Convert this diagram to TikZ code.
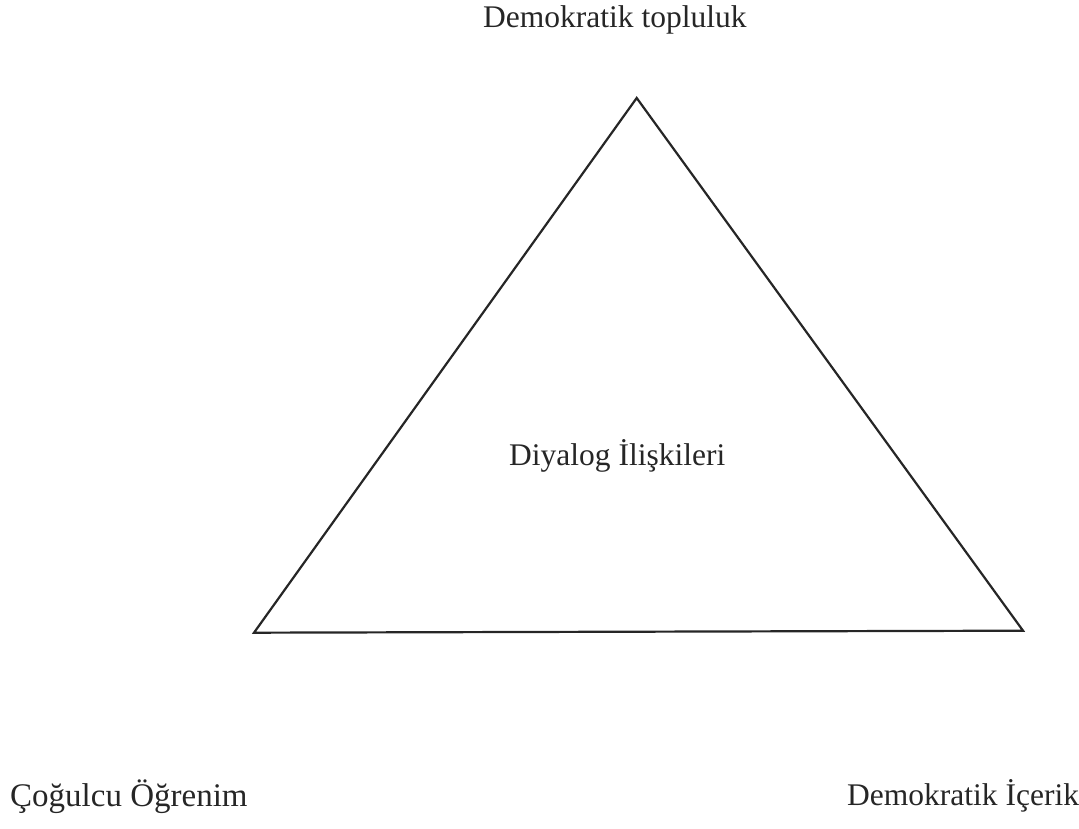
\documentclass[tikz,border=0pt]{standalone}
\usepackage{fontspec}
\setmainfont{Liberation Serif}
\begin{document}
\begin{tikzpicture}[x=1pt,y=1pt,
  lbl/.style={font=\fontsize{31.5}{36}\selectfont, text=black!85, inner sep=0pt},
  edge/.style={draw=black!85, line width=2.2pt, line join=miter}]
\useasboundingbox (0,0) rectangle (1079,829);
\coordinate (apex) at (636.7,731);
\coordinate (bl) at (254,196.3);
\coordinate (br) at (1023,198.3);
\draw[edge] (apex) -- (bl) -- (br) -- cycle;
\node[lbl, anchor=base west] (top) at (483,801) {Demokratik topluluk};
\node[lbl, anchor=base west] (mid) at (509,363) {Diyalog İlişkileri};
\node[lbl, anchor=base west, font=\fontsize{33}{38}\selectfont] (left) at (10,22) {Çoğulcu Öğrenim};
\node[lbl, anchor=base west] (right) at (847,23) {Demokratik İçerik};
\end{tikzpicture}
\end{document}
